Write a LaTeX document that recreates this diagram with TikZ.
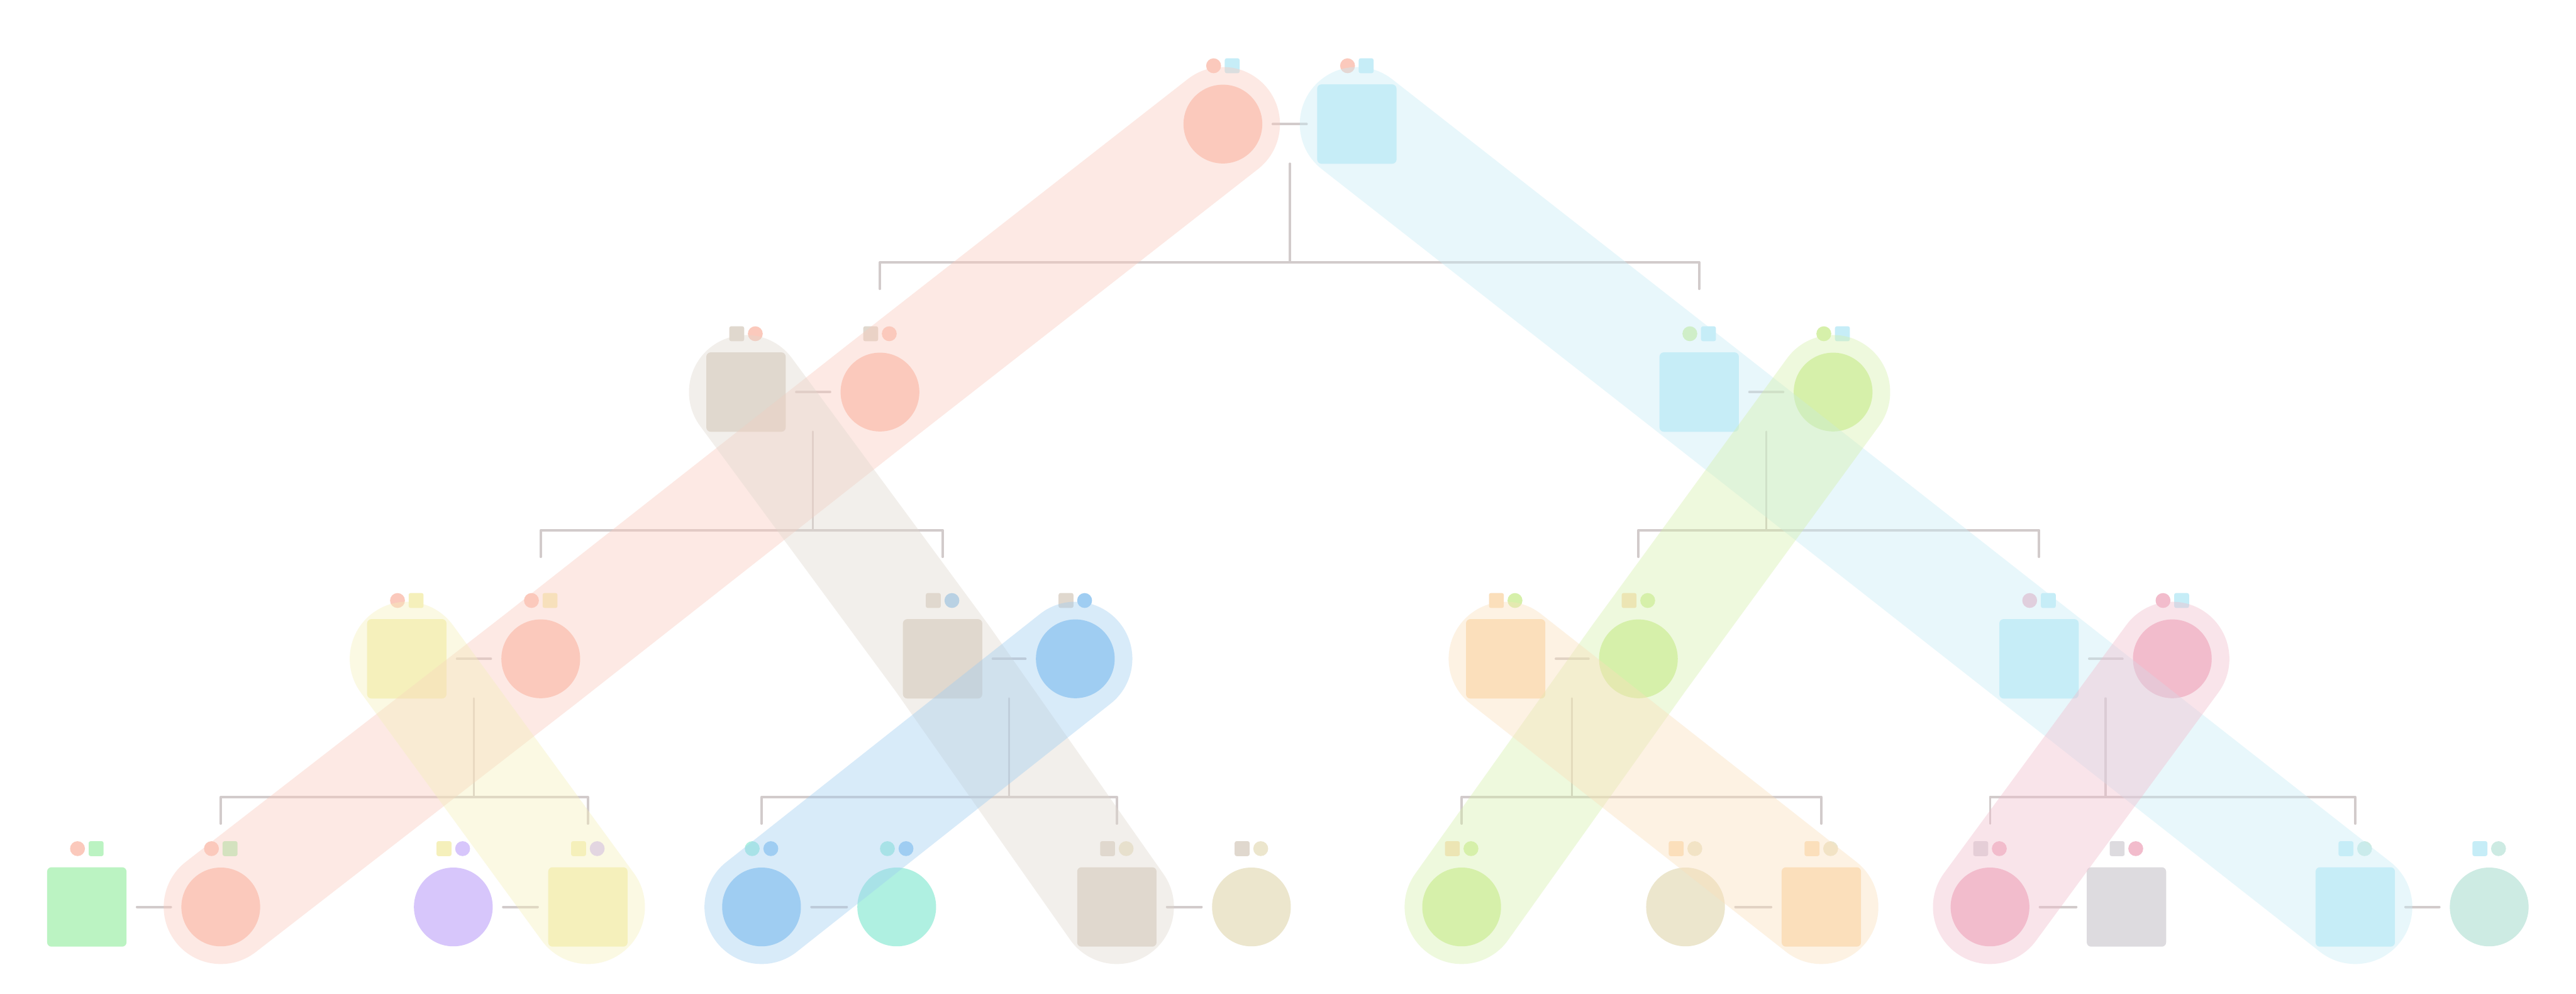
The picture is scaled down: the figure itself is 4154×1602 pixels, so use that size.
\documentclass[tikz,border=0pt]{standalone}
\usetikzlibrary{calc}
\definecolor{corange}{HTML}{FBC9BC}
\definecolor{ccyan}{HTML}{C6EDF7}
\definecolor{ctan}{HTML}{E0D8CE}
\definecolor{clime}{HTML}{D6F0AA}
\definecolor{cyellow}{HTML}{F5F0BB}
\definecolor{cblue}{HTML}{9FCDF2}
\definecolor{cpeach}{HTML}{FBDFBB}
\definecolor{cpink}{HTML}{F2BCCC}
\definecolor{cgreen}{HTML}{BBF3C2}
\definecolor{cpurple}{HTML}{D7C6FB}
\definecolor{caqua}{HTML}{AFF0E1}
\definecolor{cbeige}{HTML}{ECE6CD}
\definecolor{cgray}{HTML}{DDDBDF}
\definecolor{cseafoam}{HTML}{CDEBE3}
\definecolor{lc}{HTML}{D2CBCB}
\tikzset{
  nc/.style={circle, fill=#1, minimum size=12.7mm, inner sep=0pt, outer sep=0pt},
  ns/.style={rectangle, rounded corners=0.7mm, fill=#1, minimum size=12.8mm, inner sep=0pt, outer sep=0pt},
  mc/.style={circle, fill=#1, minimum size=2.4mm, inner sep=0pt},
  ms/.style={rectangle, rounded corners=0.3mm, fill=#1, minimum size=2.4mm, inner sep=0pt},
  link/.style={draw=lc, line width=0.4mm, line cap=round, shorten <=1.7mm, shorten >=1.7mm},
  tree/.style={draw=lc, line width=0.35mm, line cap=round, line join=round},
  band/.style={draw=#1, draw opacity=0.4, line width=18.4mm, line cap=round, line join=round}
}
\newcommand\mrk[5]{%
  \node[#2=#3] (#1-m1) at ([xshift=-1.5mm,yshift=9.4mm]#1.center) {};
  \node[#4=#5] (#1-m2) at ([xshift=1.5mm,yshift=9.4mm]#1.center) {};}
\newcommand\brk[4]{% name, left node, right node, top coordinate
  \coordinate (#1j) at ([yshift=-15.9mm]#4);
  \coordinate (#1l) at (#2.center |- #1j);
  \coordinate (#1r) at (#3.center |- #1j);
  \draw[tree] (#4) -- (#1j);
  \draw[tree] ([yshift=-4.3mm]#1l) -- (#1l) -- (#1r) -- ([yshift=-4.3mm]#1r);}
\begin{document}
\begin{tikzpicture}[x=0.1mm, y=-0.1mm]
\fill[white] (0,0) rectangle (4154,1602);
\useasboundingbox (0,0) rectangle (4154,1602);
% level 0
\node[nc=corange] (a0) at (1972,200) {};
\node[ns=ccyan] (b0) at (2188,200) {};
% level 1
\node[ns=ctan] (a1) at (1203,632) {};
\node[nc=corange] (b1) at (1419,632) {};
\node[ns=ccyan] (c1) at (2740,632) {};
\node[nc=clime] (d1) at (2956,632) {};
% level 2
\node[ns=cyellow] (a2) at (656,1062) {};
\node[nc=corange] (b2) at (872,1062) {};
\node[ns=ctan] (c2) at (1520,1062) {};
\node[nc=cblue] (d2) at (1734,1062) {};
\node[ns=cpeach] (e2) at (2428,1062) {};
\node[nc=clime] (f2) at (2642,1062) {};
\node[ns=ccyan] (g2) at (3288,1062) {};
\node[nc=cpink] (h2) at (3503,1062) {};
% level 3
\node[ns=cgreen] (a3) at (140,1462) {};
\node[nc=corange] (b3) at (356,1462) {};
\node[nc=cpurple] (c3) at (731,1462) {};
\node[ns=cyellow] (d3) at (948,1462) {};
\node[nc=cblue] (e3) at (1228,1462) {};
\node[nc=caqua] (f3) at (1446,1462) {};
\node[ns=ctan] (g3) at (1801,1462) {};
\node[nc=cbeige] (h3) at (2018,1462) {};
\node[nc=clime] (i3) at (2357,1462) {};
\node[nc=cbeige] (j3) at (2718,1462) {};
\node[ns=cpeach] (k3) at (2937,1462) {};
\node[nc=cpink] (l3) at (3209,1462) {};
\node[ns=cgray] (m3) at (3429,1462) {};
\node[ns=ccyan] (n3) at (3798,1462) {};
\node[nc=cseafoam] (o3) at (4014,1462) {};
% marks
\mrk{a0}{mc}{corange}{ms}{ccyan}
\mrk{b0}{mc}{corange}{ms}{ccyan}
\mrk{a1}{ms}{ctan}{mc}{corange}
\mrk{b1}{ms}{ctan}{mc}{corange}
\mrk{c1}{mc}{clime}{ms}{ccyan}
\mrk{d1}{mc}{clime}{ms}{ccyan}
\mrk{a2}{mc}{corange}{ms}{cyellow}
\mrk{b2}{mc}{corange}{ms}{cyellow}
\mrk{c2}{ms}{ctan}{mc}{cblue}
\mrk{d2}{ms}{ctan}{mc}{cblue}
\mrk{e2}{ms}{cpeach}{mc}{clime}
\mrk{f2}{ms}{cpeach}{mc}{clime}
\mrk{g2}{mc}{cpink}{ms}{ccyan}
\mrk{h2}{mc}{cpink}{ms}{ccyan}
\mrk{a3}{mc}{corange}{ms}{cgreen}
\mrk{b3}{mc}{corange}{ms}{cgreen}
\mrk{c3}{ms}{cyellow}{mc}{cpurple}
\mrk{d3}{ms}{cyellow}{mc}{cpurple}
\mrk{e3}{mc}{caqua}{mc}{cblue}
\mrk{f3}{mc}{caqua}{mc}{cblue}
\mrk{g3}{ms}{ctan}{mc}{cbeige}
\mrk{h3}{ms}{ctan}{mc}{cbeige}
\mrk{i3}{ms}{cpeach}{mc}{clime}
\mrk{j3}{ms}{cpeach}{mc}{cbeige}
\mrk{k3}{ms}{cpeach}{mc}{cbeige}
\mrk{l3}{ms}{cgray}{mc}{cpink}
\mrk{m3}{ms}{cgray}{mc}{cpink}
\mrk{n3}{ms}{ccyan}{mc}{cseafoam}
\mrk{o3}{ms}{ccyan}{mc}{cseafoam}
% pair links
\draw[link] (a0) -- (b0);
\draw[link] (a1) -- (b1);
\draw[link] (c1) -- (d1);
\draw[link] (a2) -- (b2);
\draw[link] (c2) -- (d2);
\draw[link] (e2) -- (f2);
\draw[link] (g2) -- (h2);
\draw[link] (a3) -- (b3);
\draw[link] (c3) -- (d3);
\draw[link] (e3) -- (f3);
\draw[link] (g3) -- (h3);
\draw[link] (j3) -- (k3);
\draw[link] (l3) -- (m3);
\draw[link] (n3) -- (o3);
% tree brackets
\coordinate (t0) at ($(a0.south)!0.5!(b0.south)$);
\coordinate (t1) at ($(a1.south)!0.5!(b1.south)$);
\coordinate (t2) at ($(c1.south)!0.5!(d1.south)$);
\coordinate (t3) at ($(a2.south)!0.5!(b2.south)$);
\coordinate (t4) at ($(c2.south)!0.5!(d2.south)$);
\coordinate (t5) at ($(e2.south)!0.5!(f2.south)$);
\coordinate (t6) at ($(g2.south)!0.5!(h2.south)$);
\brk{k0}{b1}{c1}{t0}
\brk{k1}{b2}{c2}{t1}
\brk{k2}{f2}{g2}{t2}
\brk{k3}{b3}{d3}{t3}
\brk{k4}{e3}{g3}{t4}
\brk{k5}{i3}{k3}{t5}
\brk{k6}{l3}{n3}{t6}
% lineage bands
\draw[band=corange] (a0.center) -- (b1.center) -- (b2.center) -- (b3.center);
\draw[band=ccyan] (b0.center) -- (c1.center) -- (g2.center) -- (n3.center);
\draw[band=ctan] (a1.center) -- (c2.center) -- (g3.center);
\draw[band=clime] (d1.center) -- (f2.center) -- (i3.center);
\draw[band=cyellow] (a2.center) -- (d3.center);
\draw[band=cblue] (d2.center) -- (e3.center);
\draw[band=cpeach] (e2.center) -- (k3.center);
\draw[band=cpink] (h2.center) -- (l3.center);
\end{tikzpicture}
\end{document}
